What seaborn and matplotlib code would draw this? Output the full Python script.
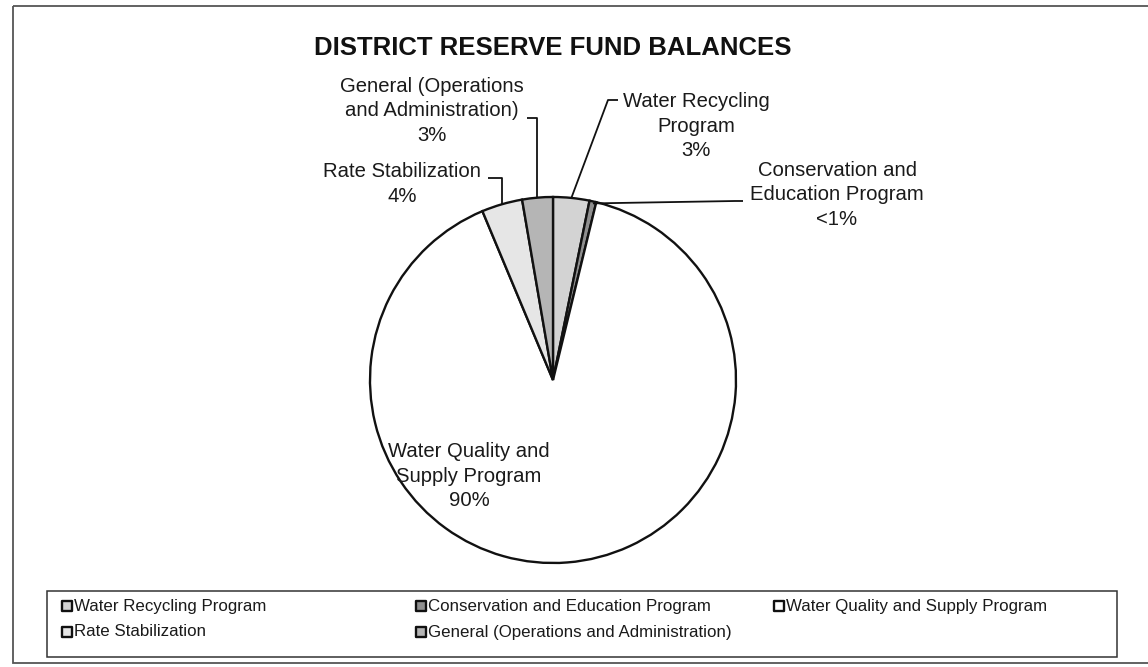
import numpy as np
import matplotlib
matplotlib.use("Agg")
import matplotlib.pyplot as plt
from matplotlib.patches import Rectangle
import seaborn as sns

# Reserve fund shares (percent), in clockwise order from 12 o'clock
funds = [
    "Water Recycling Program",
    "Conservation and Education Program",
    "Water Quality and Supply Program",
    "Rate Stabilization",
    "General (Operations and Administration)",
]
shares = [3.2, 0.6, 89.9, 3.6, 2.7]
slice_colors = ["#d3d3d3", "#8f8f8f", "#ffffff", "#e6e6e6", "#b5b5b5"]

# wrapped label text for each slice
slice_labels = [
    "Water Recycling\nProgram",
    "Conservation and\nEducation Program",
    "Water Quality and\nSupply Program",
    "Rate Stabilization",
    "General (Operations\nand Administration)",
]

title = "DISTRICT RESERVE FUND BALANCES"

sns.set_theme(style="white")
plt.rcParams["font.family"] = ["Liberation Sans", "DejaVu Sans"]

W, H = 1148, 667
fig = plt.figure(figsize=(W / 100, H / 100), dpi=100)
ax = fig.add_axes([0, 0, 1, 1])

# pixel-like coordinates with y growing downward
cx, cy, r = 553, 380, 183
wedges, _ = ax.pie(
    shares,
    colors=slice_colors,
    startangle=-90,
    counterclock=True,
    center=(cx, cy),
    radius=r,
    wedgeprops=dict(edgecolor="#111111", linewidth=1.7),
)
ax.set_xlim(0, W)
ax.set_ylim(H, 0)
ax.set_aspect("equal")
ax.axis("off")


def pct_text(v):
    return "<1%" if v < 1 else f"{round(v)}%"


def edge_point(w):
    mid = np.deg2rad((w.theta1 + w.theta2) / 2)
    return cx + r * np.cos(mid), cy + r * np.sin(mid)


text_kw = dict(fontsize=14.6, color="#1a1a1a", ha="center", va="center",
               multialignment="center", linespacing=1.34)

# label block centres and leader elbows
label_pos = [(696, 126), (837, 195), (469, 476), (402, 184), (432, 111)]
for i, (lbl, v) in enumerate(zip(slice_labels, shares)):
    x, y = label_pos[i]
    ax.text(x, y, f"{lbl}\n{pct_text(v)}", **text_kw)

line_kw = dict(color="#111111", lw=1.3, solid_capstyle="butt")

# Water Recycling leader
ex, ey = edge_point(wedges[0])
ax.plot([618, 608, ex], [100, 100, ey], **line_kw)
# Conservation leader
ex, ey = edge_point(wedges[1])
ax.plot([ex, 735, 743], [ey + 2, 201, 201], **line_kw)
# Rate Stabilization leader
ex, ey = edge_point(wedges[3])
ax.plot([488, ex, ex], [178, 178, ey], **line_kw)
# General leader
ex, ey = edge_point(wedges[4])
ax.plot([527, ex, ex], [118, 118, ey], **line_kw)

# title
ax.text(553, 48, title, fontsize=18.5, fontweight="bold", color="#111111",
        ha="center", va="center")

# outer frame
ax.add_patch(Rectangle((13, 6), W, 657, fill=False, edgecolor="#555555",
                       linewidth=1.3, clip_on=False))

# legend box with entries laid out row by row
ax.add_patch(Rectangle((47, 591), 1070, 66, fill=False, edgecolor="#333333",
                       linewidth=1.1))
col_x = [67, 421, 779]
row_y = [606, 632]
for i, (name, c) in enumerate(zip(funds, slice_colors)):
    mx, my = col_x[i % 3], row_y[i // 3]
    ax.scatter([mx], [my], marker="s", s=50, facecolor=c,
               edgecolor="#111111", linewidth=1.7, zorder=5)
    ax.text(mx + 7, my, name, fontsize=12.2, color="#1a1a1a",
            ha="left", va="center")

fig.savefig("out.png", dpi=100, facecolor="white")
